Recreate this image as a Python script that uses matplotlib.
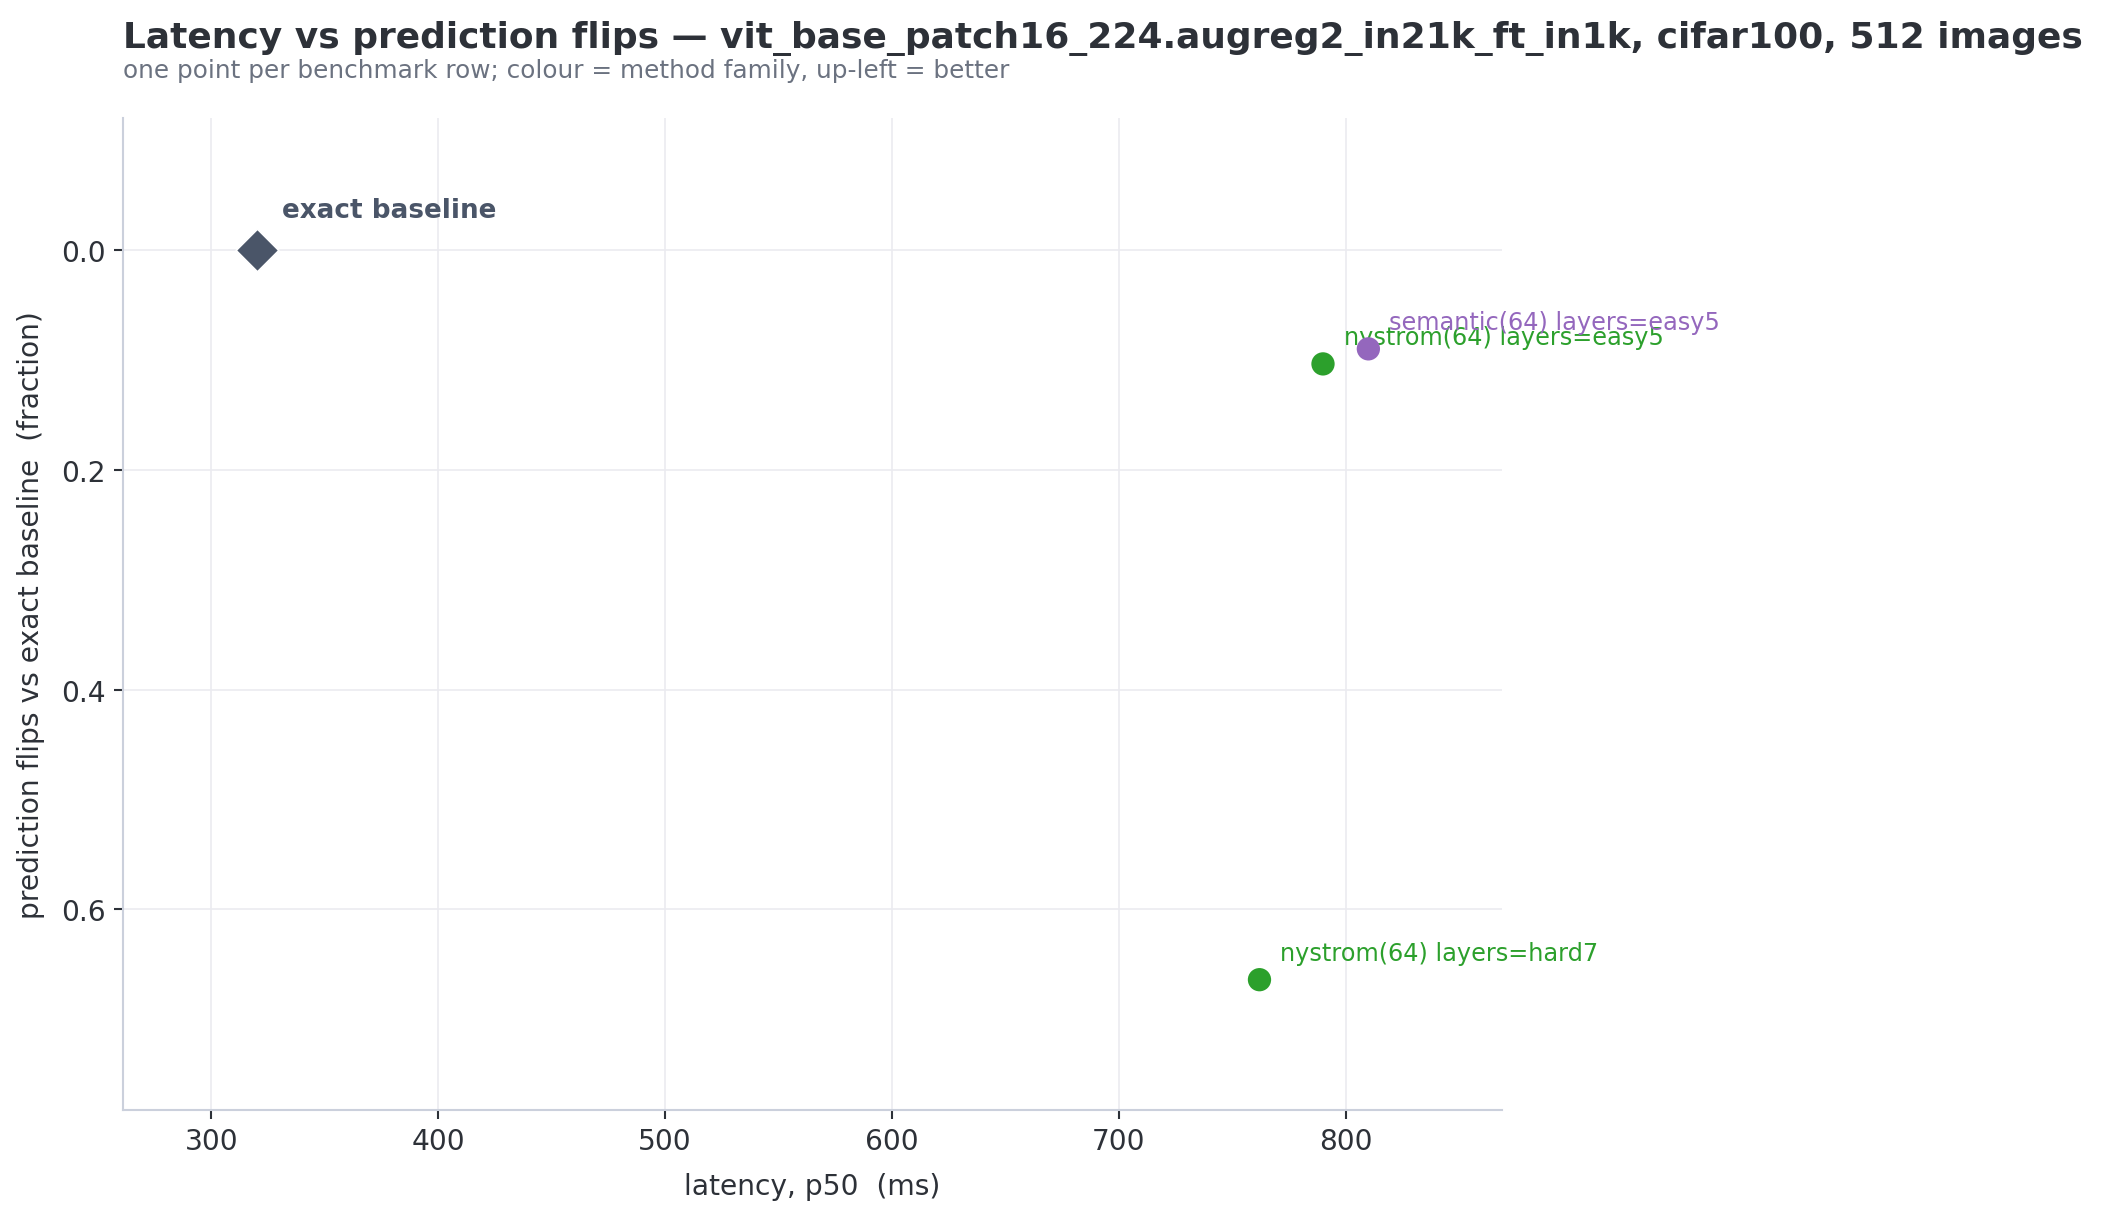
import matplotlib
matplotlib.use('Agg')
import matplotlib.pyplot as plt

# benchmark rows
labels = ['exact baseline', 'nystrom(64) layers=easy5', 'semantic(64) layers=easy5', 'nystrom(64) layers=hard7']
families = ['exact', 'nystrom', 'semantic', 'nystrom']
latency_ms = [320, 790, 810, 762]
flip_frac = [0.0, 0.1035, 0.0898, 0.664]

family_colors = {'exact': '#4a5568', 'nystrom': '#2ca02c', 'semantic': '#9467bd'}

dpi = 150
fig = plt.figure(figsize=(2101 / dpi, 1218 / dpi), dpi=dpi)
ax = fig.add_axes([0.0585, 0.0875, 0.6565, 0.8145])

for lab, fam, x, y in zip(labels, families, latency_ms, flip_frac):
  col = family_colors[fam]
  if fam == 'exact':
    ax.scatter([x], [y], s=210, marker='D', color=col, edgecolors='white', linewidths=0.8, zorder=3)
    ax.annotate(lab, (x, y), xytext=(12, 13), textcoords='offset points', fontsize=12.6,
                fontweight='bold', color=col, ha='left', va='bottom')
  else:
    ax.scatter([x], [y], s=125, marker='o', color=col, edgecolors='none', zorder=3)
    ax.annotate(lab, (x, y), xytext=(10, 7), textcoords='offset points', fontsize=11.5,
                color=col, ha='left', va='bottom')

ax.set_xlim(261, 869)
ax.set_ylim(0.783, -0.12)
ax.set_xticks([300, 400, 500, 600, 700, 800])
ax.set_yticks([0.0, 0.2, 0.4, 0.6])
ax.grid(True, color='#ebebf0', linewidth=0.8)
ax.set_axisbelow(True)
for side in ['top', 'right']:
  ax.spines[side].set_visible(False)
for side in ['left', 'bottom']:
  ax.spines[side].set_color('#cbd0dc')
  ax.spines[side].set_linewidth(1.0)
ax.tick_params(labelsize=13.5, colors='#2d3138', length=4.5, width=1.0)
ax.set_xlabel('latency, p50  (ms)', fontsize=13.5, color='#2d3138', labelpad=8)
ax.set_ylabel('prediction flips vs exact baseline  (fraction)', fontsize=13.5, color='#2d3138', labelpad=8)

fig.text(0.0585, 0.9606, 'Latency vs prediction flips \u2014 vit_base_patch16_224.augreg2_in21k_ft_in1k, cifar100, 512 images',
         fontsize=17.25, fontweight='bold', color='#2d3138', ha='left', va='baseline')
fig.text(0.0585, 0.936, 'one point per benchmark row; colour = method family, up-left = better',
         fontsize=11.9, color='#6b7280', ha='left', va='baseline')

fig.savefig('out.png', dpi=dpi)
